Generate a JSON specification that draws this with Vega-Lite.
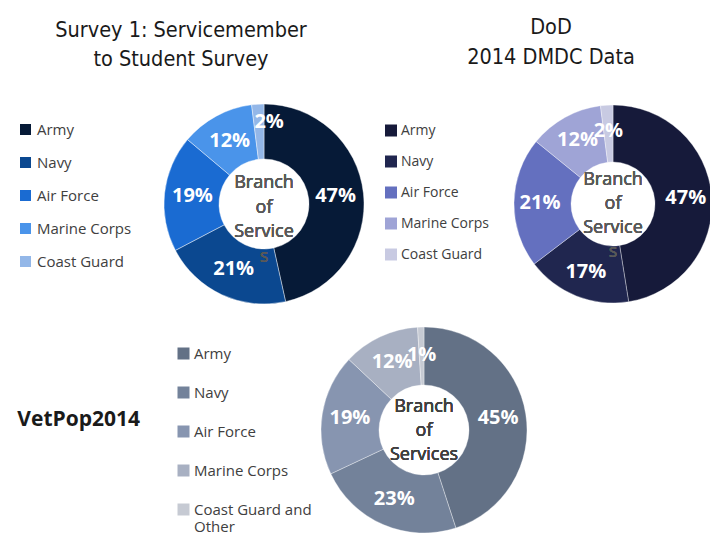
{
  "$schema": "https://vega.github.io/schema/vega-lite/v6.json",
  "background": "white",
  "padding": {"left": 17, "top": 17, "right": 0, "bottom": 0},
  "config": {
    "view": {"stroke": null},
    "font": "Open Sans",
    "legend": {"symbolType": "square", "symbolStrokeWidth": 0, "symbolOpacity": 1, "labelFont": "Open Sans", "labelColor": "#404040"}
  },
  "datasets": {
    "s1": [
      {"branch": "Army", "pct": 0.47, "order": 1},
      {"branch": "Navy", "pct": 0.21, "order": 2},
      {"branch": "Air Force", "pct": 0.19, "order": 3},
      {"branch": "Marine Corps", "pct": 0.12, "order": 4},
      {"branch": "Coast Guard", "pct": 0.02, "order": 5}
    ],
    "dod": [
      {"branch": "Army", "pct": 0.47, "order": 1},
      {"branch": "Navy", "pct": 0.17, "order": 2},
      {"branch": "Air Force", "pct": 0.21, "order": 3},
      {"branch": "Marine Corps", "pct": 0.12, "order": 4},
      {"branch": "Coast Guard", "pct": 0.02, "order": 5}
    ],
    "vet": [
      {"branch": "Army", "pct": 0.45, "order": 1},
      {"branch": "Navy", "pct": 0.23, "order": 2},
      {"branch": "Air Force", "pct": 0.19, "order": 3},
      {"branch": "Marine Corps", "pct": 0.12, "order": 4},
      {"branch": "Coast Guard and Other", "pct": 0.01, "order": 5}
    ]
  },
  "spacing": 19,
  "resolve": {"scale": {"color": "independent", "theta": "independent"}, "legend": {"color": "independent"}},
  "vconcat": [
    {
      "bounds": "flush",
      "spacing": 150,
      "resolve": {"scale": {"color": "independent", "theta": "independent"}, "legend": {"color": "independent"}},
      "hconcat": [
        {
          "width": 200,
          "height": 200,
          "data": {"name": "s1"},
          "title": {"text": ["Survey 1: Servicemember", "to Student Survey"], "frame": "group", "anchor": "middle", "dx": -83, "offset": 32, "lineHeight": 29, "font": "Liberation Sans Narrow, DejaVu Sans Condensed, Roboto", "fontSize": 21.5, "fontWeight": "normal", "color": "#1a1a1a"},
          "encoding": {
            "theta": {"field": "pct", "type": "quantitative", "stack": true},
            "order": {"field": "order", "type": "quantitative"}
          },
          "layer": [
            {
              "mark": {"type": "arc", "outerRadius": 100, "innerRadius": 45, "stroke": "#ffffff", "strokeWidth": 0.7, "strokeOpacity": 0.6},
              "encoding": {
                "color": {"field": "branch", "type": "nominal",
                  "scale": {"domain": ["Army", "Navy", "Air Force", "Marine Corps", "Coast Guard"], "range": ["#061a37", "#0b4890", "#1a6bd2", "#4a94ea", "#93b7e8"]},
                  "legend": {"title": null, "orient": "none", "legendX": -146, "legendY": 18, "rowPadding": 17, "labelFontSize": 15, "symbolSize": 121, "labelOffset": 4}
                }
              }
            },
            {
              "transform": [{"filter": "datum.pct >= 0.05"}],
              "mark": {"type": "text", "radius": 72, "color": "white", "fontSize": 20, "fontWeight": "bold", "font": "Open Sans"},
              "encoding": {"text": {"field": "pct", "type": "quantitative", "format": ".0%"}}
            },
            {
              "transform": [{"filter": "datum.pct < 0.05"}],
              "mark": {"type": "text", "radius": 82, "color": "white", "fontSize": 20, "fontWeight": "bold", "font": "Open Sans"},
              "encoding": {"text": {"field": "pct", "type": "quantitative", "format": ".0%"}}
            },
            {
              "mark": {"type": "text", "text": ["Branch", "of", "Service", "s"], "lineHeight": 24.5, "baseline": "middle", "dy": -21, "fontSize": 18, "color": "#595959", "font": "Open Sans"},
              "encoding": {"theta": null, "order": null}
            }
          ]
        },
        {
          "width": 198,
          "height": 200,
          "data": {"name": "dod"},
          "title": {"text": ["DoD", "2014 DMDC Data"], "frame": "group", "anchor": "middle", "dx": -62, "offset": 35, "lineHeight": 30, "font": "Liberation Sans Narrow, DejaVu Sans Condensed, Roboto", "fontSize": 21.5, "fontWeight": "normal", "color": "#1a1a1a"},
          "encoding": {
            "theta": {"field": "pct", "type": "quantitative", "stack": true},
            "order": {"field": "order", "type": "quantitative"}
          },
          "layer": [
            {
              "mark": {"type": "arc", "outerRadius": 99, "innerRadius": 42, "stroke": "#ffffff", "strokeWidth": 0.7, "strokeOpacity": 0.5},
              "encoding": {
                "color": {"field": "branch", "type": "nominal",
                  "scale": {"domain": ["Army", "Navy", "Air Force", "Marine Corps", "Coast Guard"], "range": ["#161a3a", "#20264f", "#6470bf", "#9fa4d6", "#c8cae2"]},
                  "legend": {"title": null, "orient": "none", "legendX": -130, "legendY": 19.5, "rowPadding": 17, "labelFontSize": 14, "symbolSize": 144, "labelOffset": 3}
                }
              }
            },
            {
              "mark": {"type": "text", "radius": 73, "color": "white", "fontSize": 20, "fontWeight": "bold", "font": "Open Sans"},
              "encoding": {"text": {"field": "pct", "type": "quantitative", "format": ".0%"}}
            },
            {
              "mark": {"type": "text", "text": ["Branch", "of", "Service", "s"], "lineHeight": 24, "baseline": "middle", "dy": -24, "fontSize": 18, "color": "#595959", "font": "Open Sans"},
              "encoding": {"theta": null, "order": null}
            }
          ]
        }
      ]
    },
    {
      "width": 520,
      "height": 206,
      "data": {"name": "vet"},
      "title": {"text": "VetPop2014", "orient": "left", "angle": 0, "anchor": "middle", "align": "left", "baseline": "middle", "frame": "group", "offset": 24, "dy": -10, "font": "Open Sans", "fontSize": 21, "fontWeight": "bold", "color": "#1a1a1a"},
      "encoding": {
        "theta": {"field": "pct", "type": "quantitative", "stack": true},
        "order": {"field": "order", "type": "quantitative"}
      },
      "layer": [
        {
          "mark": {"type": "arc", "outerRadius": 103, "innerRadius": 45, "stroke": "#ffffff", "strokeWidth": 0.7, "strokeOpacity": 0.5},
          "encoding": {
            "color": {"field": "branch", "type": "nominal",
              "scale": {"domain": ["Army", "Navy", "Air Force", "Marine Corps", "Coast Guard and Other"], "range": ["#637186", "#73829a", "#8795b0", "#a8b0c2", "#c6cad3"]},
              "legend": {"title": null, "orient": "none", "legendX": 12, "legendY": 19, "rowPadding": 23, "labelFontSize": 15, "symbolSize": 144, "labelOffset": 3,
                "labelExpr": "datum.label == 'Coast Guard and Other' ? ['Coast Guard and', 'Other'] : datum.label"}
            }
          }
        },
        {
          "mark": {"type": "text", "radius": 75, "color": "white", "fontSize": 20, "fontWeight": "bold", "font": "Open Sans"},
          "encoding": {"text": {"field": "pct", "type": "quantitative", "format": ".0%"}}
        },
        {
          "mark": {"type": "text", "text": ["Branch", "of", "Services"], "lineHeight": 24, "baseline": "middle", "dy": -23, "fontSize": 18, "color": "#404040", "font": "Open Sans"},
          "encoding": {"theta": null, "order": null}
        }
      ]
    }
  ]
}
